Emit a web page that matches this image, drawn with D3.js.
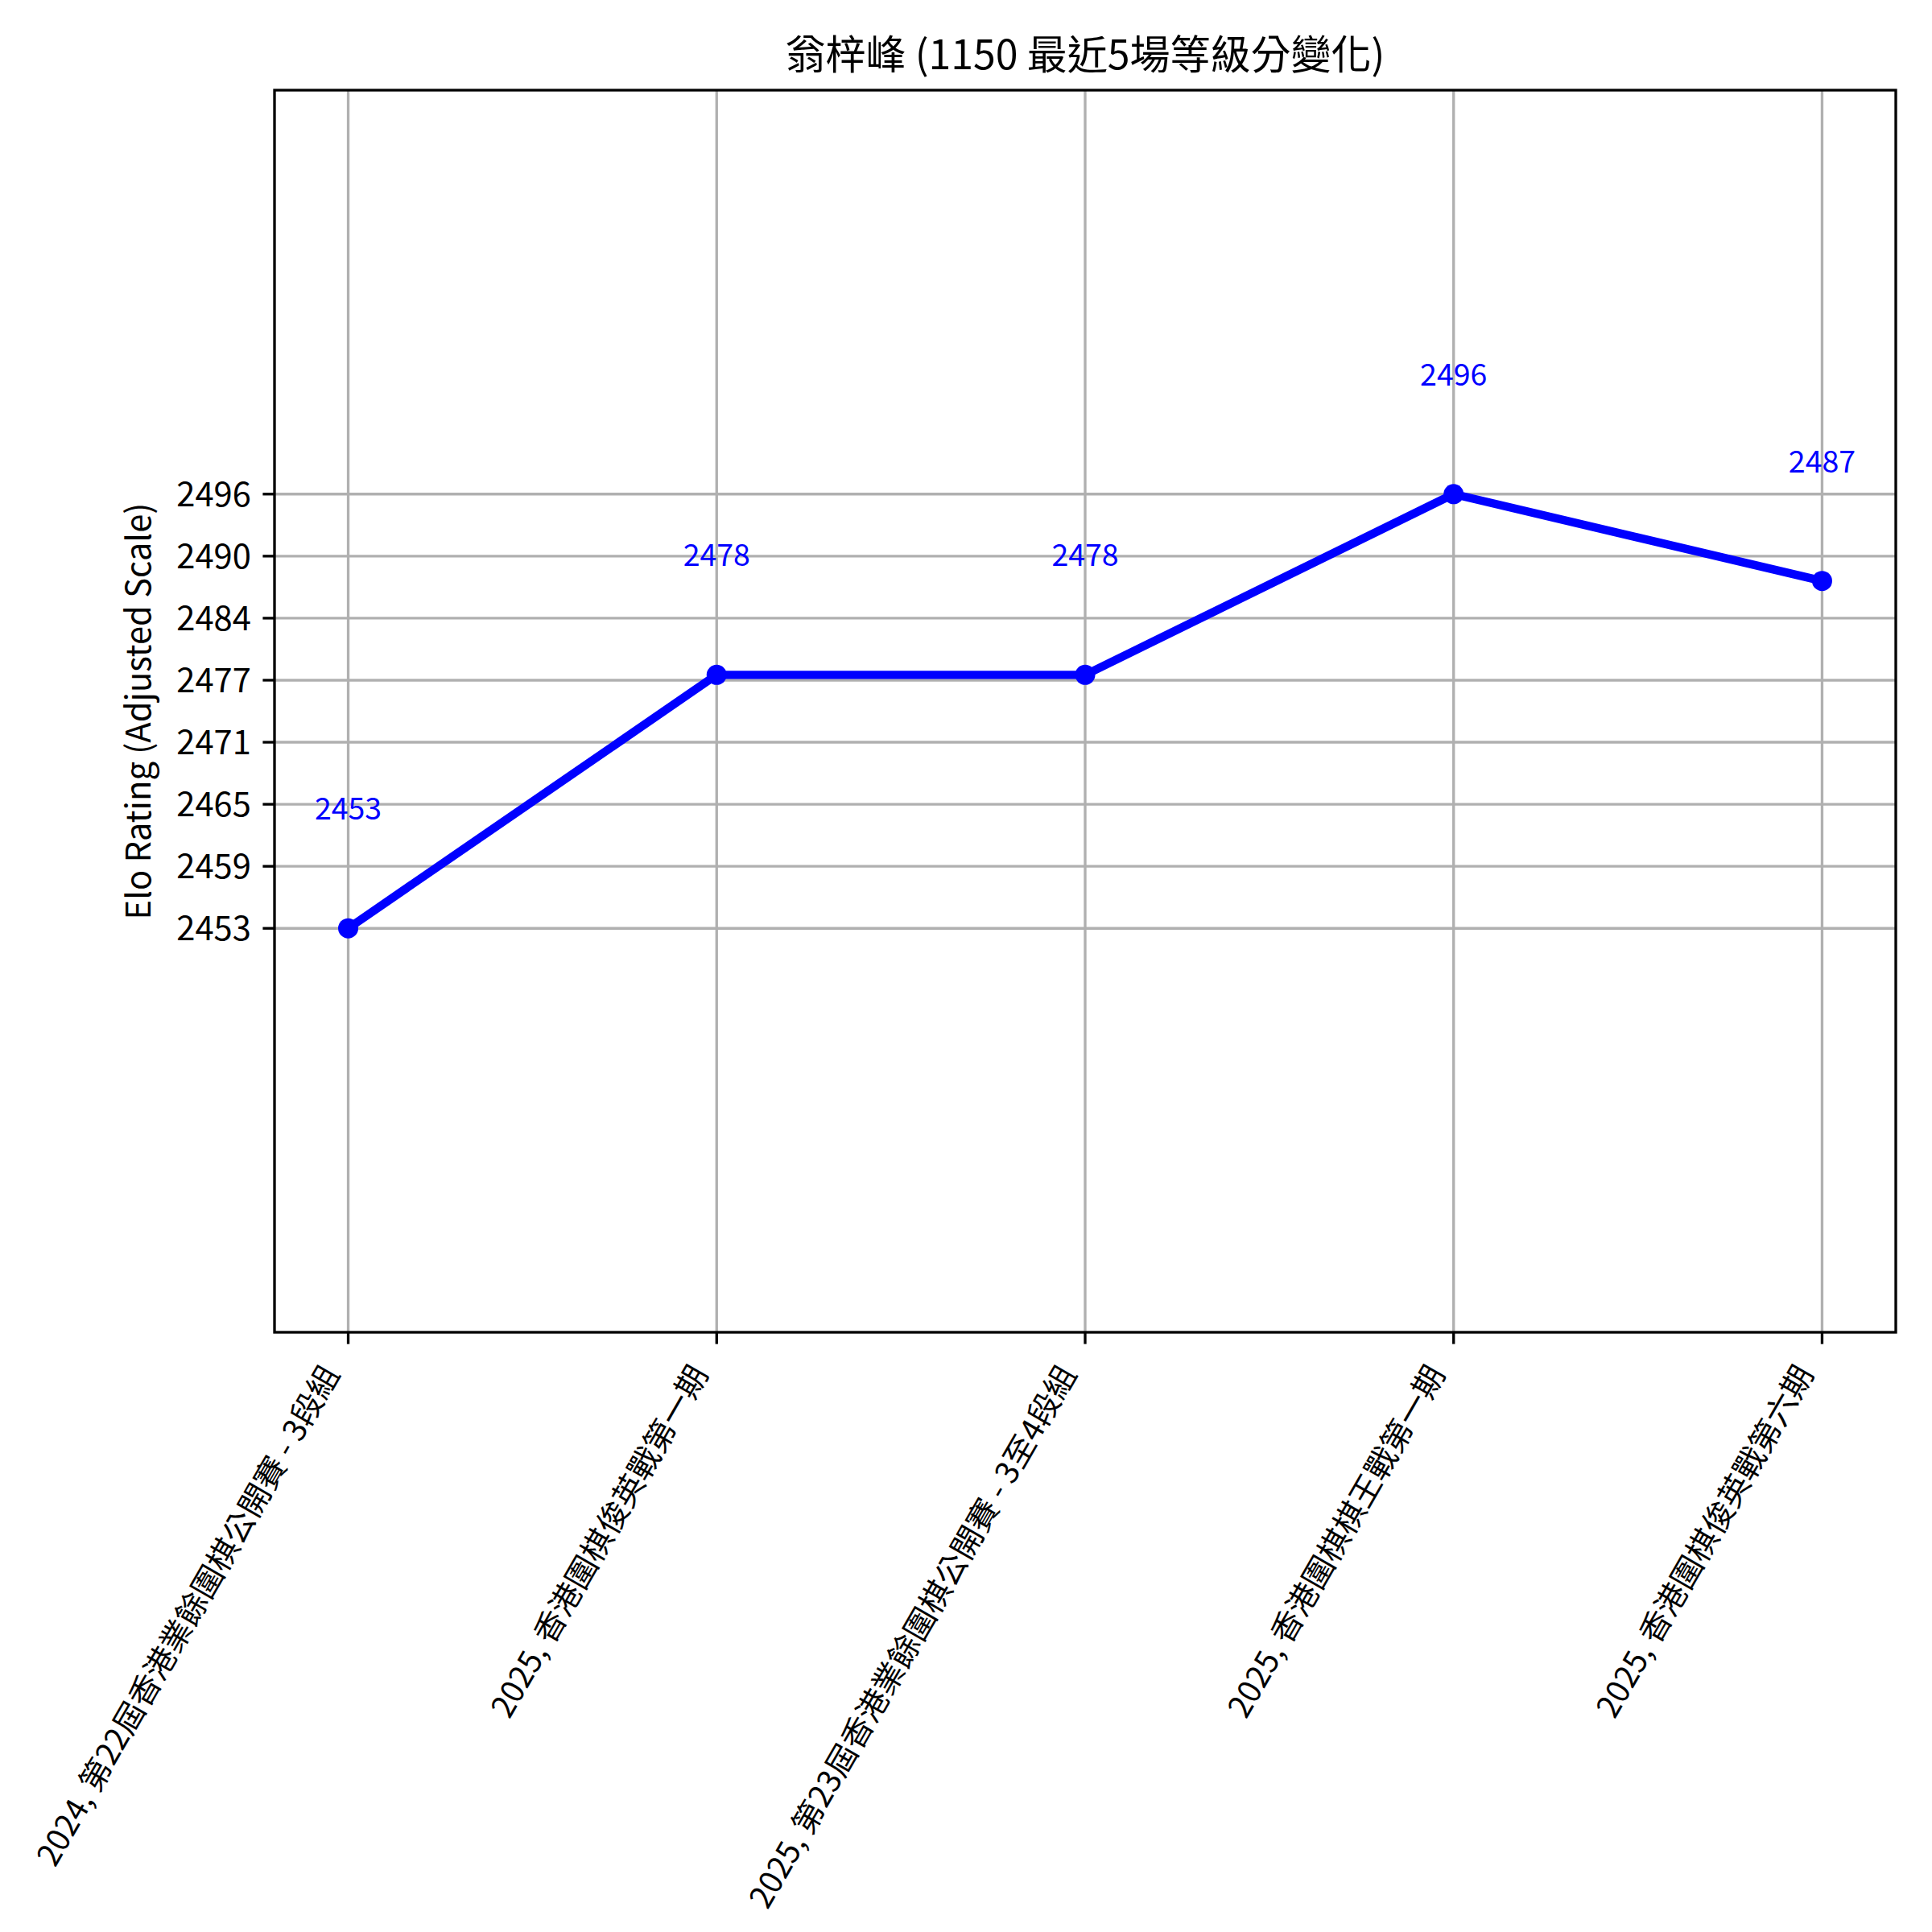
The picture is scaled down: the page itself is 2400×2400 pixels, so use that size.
<!DOCTYPE html>
<html>
<head>
<meta charset="utf-8">
<script src="https://cdn.jsdelivr.net/npm/d3@7"></script>
<style>
  html, body { margin: 0; padding: 0; background: #fff; }
  svg { display: block; }
  text { font-family: "Noto Sans CJK TC", "Noto Sans CJK SC", sans-serif; }
</style>
</head>
<body>
<svg id="chart" width="2400" height="2400"></svg>
<script>
// ---- data ----
const categories = [
  "2024, 第22屆香港業餘圍棋公開賽 - 3段組",
  "2025, 香港圍棋俊英戰第一期",
  "2025, 第23屆香港業餘圍棋公開賽 - 3至4段組",
  "2025, 香港圍棋棋王戰第一期",
  "2025, 香港圍棋俊英戰第六期"
];
const ratings = [2453, 2478.1, 2478.1, 2496, 2487.4];
const ratingLabels = ["2453", "2478", "2478", "2496", "2487"];
const yTickLabels = ["2453", "2459", "2465", "2471", "2477", "2484", "2490", "2496"];
const titleText = "翁梓峰 (1150 最近5場等級分變化)";
const yAxisTitle = "Elo Rating (Adjusted Scale)";

// ---- layout ----
const W = 2400, H = 2400;
const plot = { left: 341, right: 2355, top: 112, bottom: 1655 };
const svg = d3.select("#chart");
svg.append("rect").attr("width", W).attr("height", H).attr("fill", "#fff");

const yMin = d3.min(ratings), yMax = d3.max(ratings);
const x = d3.scaleLinear().domain([-0.2, categories.length - 1 + 0.2]).range([plot.left, plot.right]);
const y = d3.scaleLinear().domain([yMin - 40, yMax + 40]).range([plot.bottom, plot.top]);
const yTicks = d3.range(yTickLabels.length).map(i => yMin + (yMax - yMin) * i / (yTickLabels.length - 1));
const xTicks = d3.range(categories.length);

const lw = 3.33;
const gridColor = "#b0b0b0";

// grid
const g = svg.append("g");
g.selectAll("line.vg").data(xTicks).enter().append("line")
  .attr("x1", d => x(d)).attr("x2", d => x(d))
  .attr("y1", plot.top).attr("y2", plot.bottom)
  .attr("stroke", gridColor).attr("stroke-width", lw);
g.selectAll("line.hg").data(yTicks).enter().append("line")
  .attr("x1", plot.left).attr("x2", plot.right)
  .attr("y1", d => y(d)).attr("y2", d => y(d))
  .attr("stroke", gridColor).attr("stroke-width", lw);

// line + markers
const line = d3.line().x((d, i) => x(i)).y(d => y(d));
svg.append("path").datum(ratings).attr("d", line)
  .attr("fill", "none").attr("stroke", "#0000ff").attr("stroke-width", 10.4)
  .attr("stroke-linejoin", "round").attr("stroke-linecap", "butt");
svg.selectAll("circle.pt").data(ratings).enter().append("circle")
  .attr("cx", (d, i) => x(i)).attr("cy", d => y(d)).attr("r", 12.5).attr("fill", "#0000ff");

// data labels
const labelOffset = (yMax - yMin) * 0.25;
svg.selectAll("text.dl").data(ratings).enter().append("text")
  .attr("x", (d, i) => x(i)).attr("y", d => y(d + labelOffset))
  .attr("text-anchor", "middle").attr("font-size", 37.5).attr("fill", "#0000ff")
  .text((d, i) => ratingLabels[i]);

// spines
svg.append("rect").attr("x", plot.left).attr("y", plot.top)
  .attr("width", plot.right - plot.left).attr("height", plot.bottom - plot.top)
  .attr("fill", "none").attr("stroke", "#000").attr("stroke-width", lw);

// y ticks
const tickLen = 14.6, pad = 14.6;
svg.selectAll("line.yt").data(yTicks).enter().append("line")
  .attr("x1", plot.left - tickLen).attr("x2", plot.left)
  .attr("y1", d => y(d)).attr("y2", d => y(d))
  .attr("stroke", "#000").attr("stroke-width", lw);
svg.selectAll("text.yt").data(yTicks).enter().append("text")
  .attr("x", plot.left - tickLen - pad).attr("y", d => y(d) + 15)
  .attr("text-anchor", "end").attr("font-size", 41.7).attr("fill", "#000")
  .text((d, i) => yTickLabels[i]);

// x ticks
svg.selectAll("line.xt").data(xTicks).enter().append("line")
  .attr("x1", d => x(d)).attr("x2", d => x(d))
  .attr("y1", plot.bottom).attr("y2", plot.bottom + tickLen)
  .attr("stroke", "#000").attr("stroke-width", lw);

const xl = svg.selectAll("g.xl").data(xTicks).enter().append("g");
xl.append("text")
  .attr("text-anchor", "end").attr("font-size", 39).attr("fill", "#000")
  .attr("transform", "rotate(-60)")
  .text(d => categories[d]);
// align rotated bbox: right edge at tick x, top at axis bottom + tick + pad
xl.each(function(d) {
  const r = this.getBoundingClientRect();
  const tx = x(d) - r.right;
  const ty = plot.bottom + tickLen + pad - r.top;
  d3.select(this).attr("transform", `translate(${tx},${ty})`);
});

// y axis title
svg.append("text")
  .attr("transform", `translate(187,${(plot.top + plot.bottom) / 2}) rotate(-90)`)
  .attr("text-anchor", "middle").attr("font-size", 41.7).attr("fill", "#000")
  .text(yAxisTitle);

// title
svg.append("text")
  .attr("x", (plot.left + plot.right) / 2).attr("y", 86)
  .attr("text-anchor", "middle").attr("font-size", 50).attr("fill", "#000")
  .text(titleText);
</script>
</body>
</html>
